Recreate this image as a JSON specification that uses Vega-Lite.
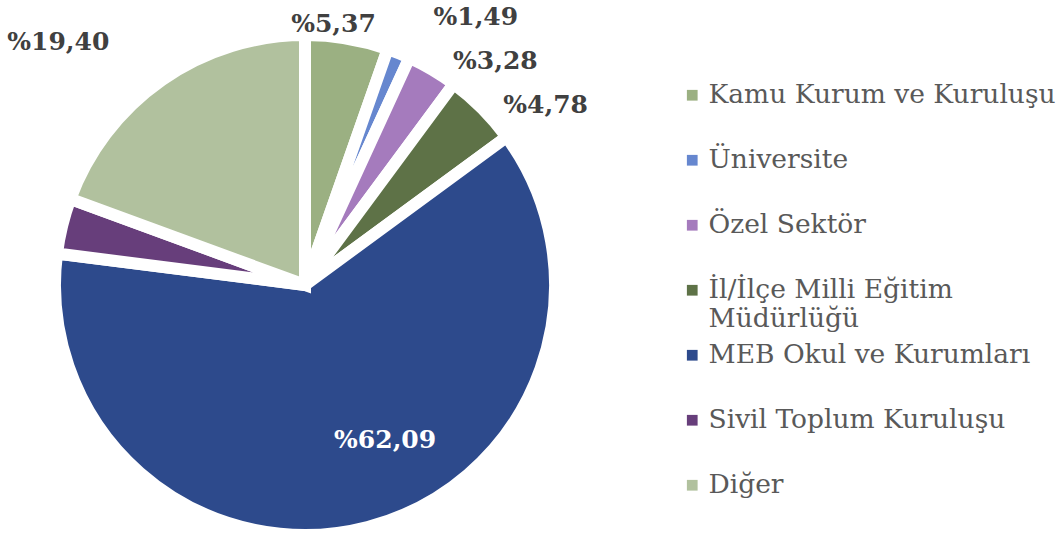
{
  "$schema": "https://vega.github.io/schema/vega-lite/v6.json",
  "width": 610,
  "height": 500,
  "autosize": "none",
  "padding": {"left": 0, "top": 35, "right": 451, "bottom": 0},
  "background": "white",
  "config": {"view": {"stroke": null}, "font": "DejaVu Serif"},
  "data": {"values": [
    {"kurum": "Kamu Kurum ve Kuruluşu", "pct": 5.37, "sira": 1},
    {"kurum": "Üniversite", "pct": 1.49, "sira": 2},
    {"kurum": "Özel Sektör", "pct": 3.28, "sira": 3},
    {"kurum": "İl/İlçe Milli Eğitim Müdürlüğü", "pct": 4.78, "sira": 4},
    {"kurum": "MEB Okul ve Kurumları", "pct": 62.09, "sira": 5},
    {"kurum": "Sivil Toplum Kuruluşu", "pct": 3.59, "sira": 6},
    {"kurum": "Diğer", "pct": 19.40, "sira": 7}
  ]},
  "transform": [
    {"calculate": "'%' + replace(format(datum.pct, '.2f'), '.', ',')", "as": "etiket"}
  ],
  "encoding": {
    "theta": {"field": "pct", "type": "quantitative", "stack": true},
    "order": {"field": "sira", "type": "quantitative"}
  },
  "layer": [
    {
      "mark": {"type": "arc", "outerRadius": 250, "stroke": "white", "strokeWidth": 12},
      "encoding": {
        "color": {
          "field": "kurum",
          "type": "nominal",
          "sort": null,
          "scale": {
            "domain": ["Kamu Kurum ve Kuruluşu", "Üniversite", "Özel Sektör", "İl/İlçe Milli Eğitim Müdürlüğü", "MEB Okul ve Kurumları", "Sivil Toplum Kuruluşu", "Diğer"],
            "range": ["#9BB082", "#6687CF", "#A57BBD", "#5E7247", "#2D4A8C", "#673E7B", "#B1C19E"]
          },
          "legend": {
            "orient": "none",
            "legendX": 679,
            "legendY": 47,
            "title": null,
            "padding": 0,
            "gridAlign": "all",
            "symbolType": "square",
            "symbolSize": 115,
            "symbolStrokeWidth": 0,
            "labelFont": "DejaVu Serif",
            "labelFontSize": 26.5,
            "labelColor": "#595959",
            "labelOffset": 3,
            "labelLimit": 0,
            "rowPadding": 9,
            "labelExpr": "datum.label == 'İl/İlçe Milli Eğitim Müdürlüğü' ? ['İl/İlçe Milli Eğitim', 'Müdürlüğü'] : datum.label"
          }
        }
      }
    },
    {
      "mark": {"type": "text", "radius": 265, "dx": -16, "font": "DejaVu Serif", "fontWeight": "bold", "fontSize": 25, "color": "#404040"},
      "encoding": {"detail": {"field": "kurum"}, "text": {"condition": {"test": "datum.kurum === 'Kamu Kurum ve Kuruluşu'", "field": "etiket"}, "value": ""}}
    },
    {
      "mark": {"type": "text", "radius": 285, "dx": 64, "dy": -4, "font": "DejaVu Serif", "fontWeight": "bold", "fontSize": 25, "color": "#404040"},
      "encoding": {"detail": {"field": "kurum"}, "text": {"condition": {"test": "datum.kurum === 'Üniversite'", "field": "etiket"}, "value": ""}}
    },
    {
      "mark": {"type": "text", "radius": 260, "dx": 58, "font": "DejaVu Serif", "fontWeight": "bold", "fontSize": 25, "color": "#404040"},
      "encoding": {"detail": {"field": "kurum"}, "text": {"condition": {"test": "datum.kurum === 'Özel Sektör'", "field": "etiket"}, "value": ""}}
    },
    {
      "mark": {"type": "text", "radius": 255, "dx": 60, "font": "DejaVu Serif", "fontWeight": "bold", "fontSize": 25, "color": "#404040"},
      "encoding": {"detail": {"field": "kurum"}, "text": {"condition": {"test": "datum.kurum === 'İl/İlçe Milli Eğitim Müdürlüğü'", "field": "etiket"}, "value": ""}}
    },
    {
      "mark": {"type": "text", "radius": 160, "dx": 40, "font": "DejaVu Serif", "fontWeight": "bold", "fontSize": 25, "color": "white"},
      "encoding": {"detail": {"field": "kurum"}, "text": {"condition": {"test": "datum.kurum === 'MEB Okul ve Kurumları'", "field": "etiket"}, "value": ""}}
    },
    {
      "mark": {"type": "text", "radius": 300, "dx": -75, "dy": 3, "font": "DejaVu Serif", "fontWeight": "bold", "fontSize": 25, "color": "#404040"},
      "encoding": {"detail": {"field": "kurum"}, "text": {"condition": {"test": "datum.kurum === 'Diğer'", "field": "etiket"}, "value": ""}}
    }
  ]
}
